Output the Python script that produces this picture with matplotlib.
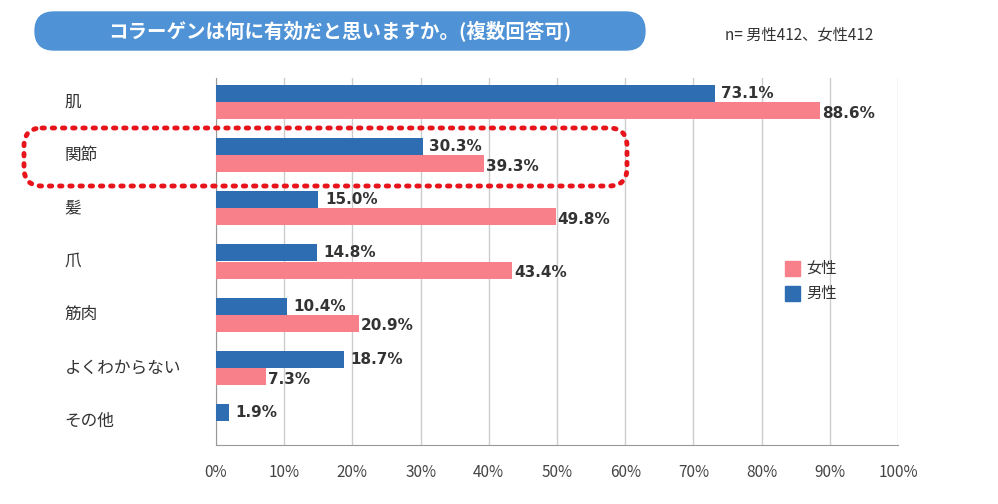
import numpy as np
import matplotlib.pyplot as plt
from matplotlib.patches import FancyBboxPatch

plt.rcParams['font.family'] = 'Noto Sans CJK JP'

categories = ['肌', '関節', '髪', '爪', '筋肉', 'よくわからない', 'その他']
male = [73.1, 30.3, 15.0, 14.8, 10.4, 18.7, 1.9]
female = [88.6, 39.3, 49.8, 43.4, 20.9, 7.3, None]

blue = '#2f6db3'
pink = '#f7808a'

W, H = 998, 504
fig = plt.figure(figsize=(W / 100, H / 100), dpi=100)
ax = fig.add_axes([216 / W, 1 - 445 / H, 682 / W, 367 / H])

y = np.arange(len(categories))
h = 0.32
ax.barh(y - h / 2, male, height=h, color=blue, zorder=3)
fy = [v if v is not None else 0 for v in female]
ax.barh(y + h / 2, fy, height=h, color=pink, zorder=3)

for i, v in enumerate(male):
    ax.text(v + 1, i - h / 2, f'{v:.1f}%', va='center', ha='left',
            fontsize=11, fontweight='bold', color='#333333', fontfamily='DejaVu Sans', zorder=4)
for i, v in enumerate(female):
    if v is not None:
        ax.text(v + 0.3, i + h / 2 + 0.05, f'{v:.1f}%', va='center', ha='left',
                fontsize=11, fontweight='bold', color='#333333', fontfamily='DejaVu Sans', zorder=4)

ax.set_xlim(0, 100)
ax.set_ylim(6.45, -0.45)
ax.set_xticks(np.arange(0, 101, 10))
ax.set_xticklabels([f'{t}%' for t in range(0, 101, 10)], fontsize=11, color='#444444')
ax.tick_params(axis='x', length=0, pad=14)
ax.set_yticks([])
ax.grid(axis='x', color='#cccccc', linewidth=1, zorder=0)
for s in ['top', 'right']:
    ax.spines[s].set_visible(False)
ax.spines['bottom'].set_color('#999999')
ax.spines['left'].set_color('#999999')

for i, c in enumerate(categories):
    ax.text(-0.222, i, c, transform=ax.get_yaxis_transform(), ha='left', va='center',
            fontsize=12, color='#333333')

# overlay in pixel coordinates
ov = fig.add_axes([0, 0, 1, 1], zorder=5)
ov.set_xlim(0, W)
ov.set_ylim(H, 0)
ov.axis('off')

# legend
ov.add_patch(plt.Rectangle((785, 261), 15, 15, color=pink))
ov.text(806, 268, '女性', fontsize=11, va='center', color='#333333')
ov.add_patch(plt.Rectangle((785, 286), 15, 15, color=blue))
ov.text(806, 293, '男性', fontsize=11, va='center', color='#333333')

# title box
ov.add_patch(FancyBboxPatch((35, 12), 610, 38, boxstyle='round,pad=0,rounding_size=19',
                            color='#4f93d6'))
ov.text(340, 31, 'コラーゲンは何に有効だと思いますか。(複数回答可)',
        fontsize=14, color='white', ha='center', va='center', fontweight='bold')
ov.text(725, 35, 'n= 男性412、女性412', fontsize=11, color='#333333', va='center')

# dotted highlight
ov.add_patch(FancyBboxPatch((24, 128), 603, 58, boxstyle='round,pad=0,rounding_size=18',
                            fill=False, edgecolor='#e8141c', linewidth=3.5,
                            linestyle=(0, (0.5, 1.6)), capstyle='round'))

fig.savefig('out.png', dpi=100)
